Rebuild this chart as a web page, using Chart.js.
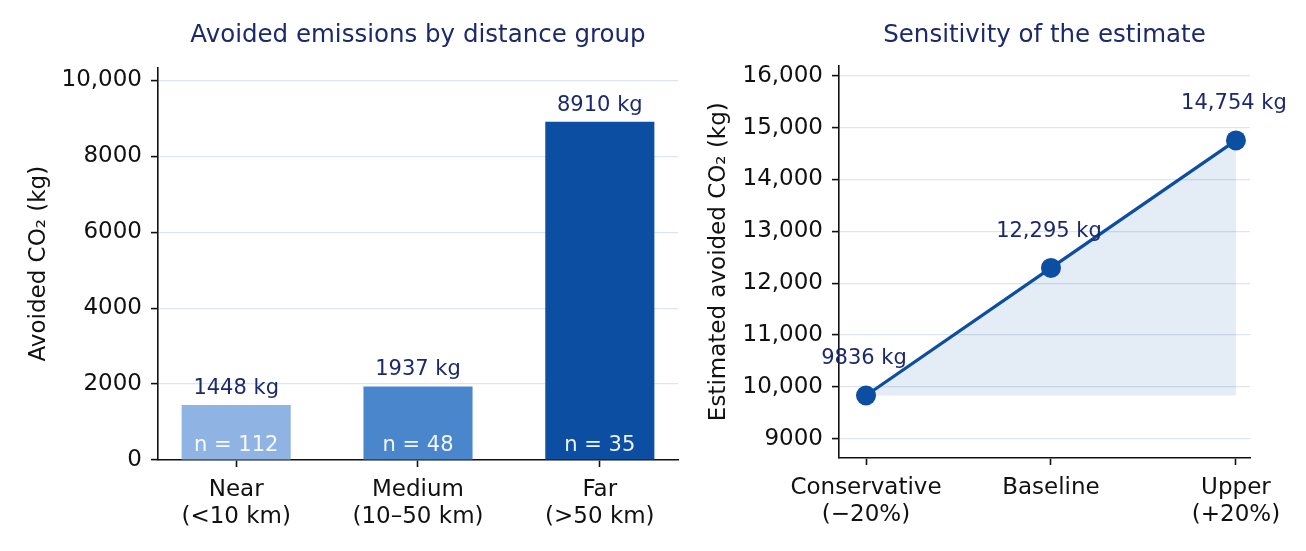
<!DOCTYPE html>
<html><head><meta charset="utf-8">
<script src="https://cdn.jsdelivr.net/npm/chart.js@4.4.1/dist/chart.umd.min.js"></script>
<style>
html,body{margin:0;padding:0;background:#fff;}
#wrap{position:relative;width:1306px;height:551px;overflow:hidden;background:#fff;}
#c1{position:absolute;left:0;top:0;}
#c2{position:absolute;left:690px;top:0;}
</style></head><body>
<div id="wrap"><canvas id="c1" width="690" height="551"></canvas><canvas id="c2" width="616" height="551"></canvas></div>
<script>
// ---- data ----
const groupLabels = [["Near", "(<10 km)"], ["Medium", "(10–50 km)"], ["Far", "(>50 km)"]];
const groupValues = [1448, 1937, 8910];
const groupCounts = [112, 48, 35];
const scenarioLabels = [["Conservative", "(−20%)"], ["Baseline"], ["Upper", "(+20%)"]];
const scenarioValues = [9836, 12295, 14754];

const titleLeft = "Avoided emissions by distance group";
const titleRight = "Sensitivity of the estimate";
const yTitleLeft = "Avoided CO₂ (kg)";
const yTitleRight = "Estimated avoided CO₂ (kg)";

// ---- styles ----
Chart.defaults.font.family = '"DejaVu Sans", sans-serif';
Chart.defaults.color = '#111';
const NAVY = '#1b2a6b';
const GRID = '#dfe5f0';
const fmt = v => v >= 10000 ? v.toLocaleString('en-US') : String(v);
const barColors = ['#8fb3e3', '#4a86cc', '#0b4ea2'];
const LINE = '#0b4ea2';

function stepTicks(step) {
  return axis => {
    const t = [];
    for (let v = Math.ceil(axis.min / step) * step; v <= axis.max; v += step) t.push({ value: v });
    axis.ticks = t;
  };
}

const leftLabels = {
  id: 'leftLabels',
  afterDatasetsDraw(chart) {
    const ctx = chart.ctx;
    const meta = chart.getDatasetMeta(0);
    ctx.save();
    ctx.font = '21px "DejaVu Sans"';
    ctx.textAlign = 'center';
    ctx.textBaseline = 'alphabetic';
    meta.data.forEach((el, i) => {
      ctx.fillStyle = NAVY;
      ctx.fillText(groupValues[i] + ' kg', el.x, el.y - 11);
      ctx.fillStyle = 'rgba(255,255,255,0.93)';
      ctx.fillText('n = ' + groupCounts[i], el.x, el.base - 8);
    });
    ctx.restore();
  }
};

const rightLabels = {
  id: 'rightLabels',
  afterDatasetsDraw(chart) {
    const ctx = chart.ctx;
    const meta = chart.getDatasetMeta(0);
    ctx.save();
    ctx.font = '21px "DejaVu Sans"';
    ctx.textAlign = 'center';
    ctx.textBaseline = 'alphabetic';
    ctx.fillStyle = NAVY;
    meta.data.forEach((el, i) => {
      ctx.fillText(fmt(scenarioValues[i]) + ' kg', el.x - 2, el.y - 31);
    });
    ctx.restore();
  }
};

const axisBase = {
  border: { color: '#111', width: 1.6 },
};

new Chart(document.getElementById('c1'), {
  type: 'bar',
  data: {
    datasets: [{
      data: groupValues.map((v, i) => ({ x: i, y: v })),
      backgroundColor: barColors,
      borderWidth: 0,
      barPercentage: 1,
      categoryPercentage: 0.6
    }]
  },
  options: {
    responsive: false,
    devicePixelRatio: 1,
    animation: false,
    layout: { padding: { left: 0, right: 12, top: 0, bottom: 0 } },
    plugins: {
      legend: { display: false },
      tooltip: { enabled: false },
      title: {
        display: true, text: titleLeft, color: NAVY, fullSize: false,
        font: { size: 24.5, weight: 'normal' },
        padding: { top: 21, bottom: 17 }
      }
    },
    scales: {
      x: {
        type: 'linear', min: -0.43, max: 2.43, offset: false,
        afterBuildTicks: axis => { axis.ticks = groupLabels.map((_, i) => ({ value: i })); },
        afterFit: axis => { axis.height = 91; },
        ticks: { callback: v => groupLabels[v], font: { size: 23 }, color: '#111', padding: 9, maxRotation: 0, autoSkip: false },
        grid: { offset: false, drawOnChartArea: false, tickColor: '#111', tickLength: 7, tickWidth: 1.6 },
        ...axisBase
      },
      y: {
        min: 0, max: 10340,
        afterBuildTicks: stepTicks(2000),
        ticks: { callback: v => fmt(v), font: { size: 23 }, color: '#111', padding: 9 },
        afterFit: axis => { axis.width = 158; },
        grid: { color: GRID, lineWidth: 1.2, tickColor: '#111', tickLength: 7, tickWidth: 1.6 },
        title: { display: true, text: yTitleLeft, font: { size: 23 }, color: '#111', padding: { top: 25, bottom: 0 } },
        ...axisBase
      }
    }
  },
  plugins: [leftLabels]
});

new Chart(document.getElementById('c2'), {
  type: 'line',
  data: {
    datasets: [{
      data: scenarioValues.map((v, i) => ({ x: i, y: v })),
      borderColor: LINE,
      borderWidth: 3.2,
      backgroundColor: 'rgba(11,78,162,0.11)',
      fill: { value: Math.min(...scenarioValues) },
      pointRadius: 10,
      pointBackgroundColor: LINE,
      pointBorderColor: LINE,
      pointBorderWidth: 0,
      tension: 0
    }]
  },
  options: {
    responsive: false,
    devicePixelRatio: 1,
    animation: false,
    layout: { padding: { left: 0, right: 56, top: 0, bottom: 0 } },
    plugins: {
      legend: { display: false },
      tooltip: { enabled: false },
      title: {
        display: true, text: titleRight, color: NAVY, fullSize: false,
        font: { size: 24.5, weight: 'normal' },
        padding: { top: 21, bottom: 15 }
      }
    },
    scales: {
      x: {
        type: 'linear', min: -0.146, max: 2.076, offset: false,
        afterBuildTicks: axis => { axis.ticks = scenarioLabels.map((_, i) => ({ value: i })); },
        afterFit: axis => { axis.height = 93; },
        ticks: { callback: v => scenarioLabels[v], font: { size: 23 }, color: '#111', padding: 9, maxRotation: 0, autoSkip: false },
        grid: { drawOnChartArea: false, tickColor: '#111', tickLength: 7, tickWidth: 1.6 },
        ...axisBase
      },
      y: {
        min: 8630, max: 16200,
        afterBuildTicks: stepTicks(1000),
        ticks: { callback: v => fmt(v), font: { size: 23 }, color: '#111', padding: 9 },
        afterFit: axis => { axis.width = 149; },
        grid: { color: GRID, lineWidth: 1.2, tickColor: '#111', tickLength: 7, tickWidth: 1.6 },
        title: { display: true, text: yTitleRight, font: { size: 23 }, color: '#111', padding: { top: 15, bottom: 0 } },
        ...axisBase
      }
    }
  },
  plugins: [rightLabels]
});
</script>
</body></html>
